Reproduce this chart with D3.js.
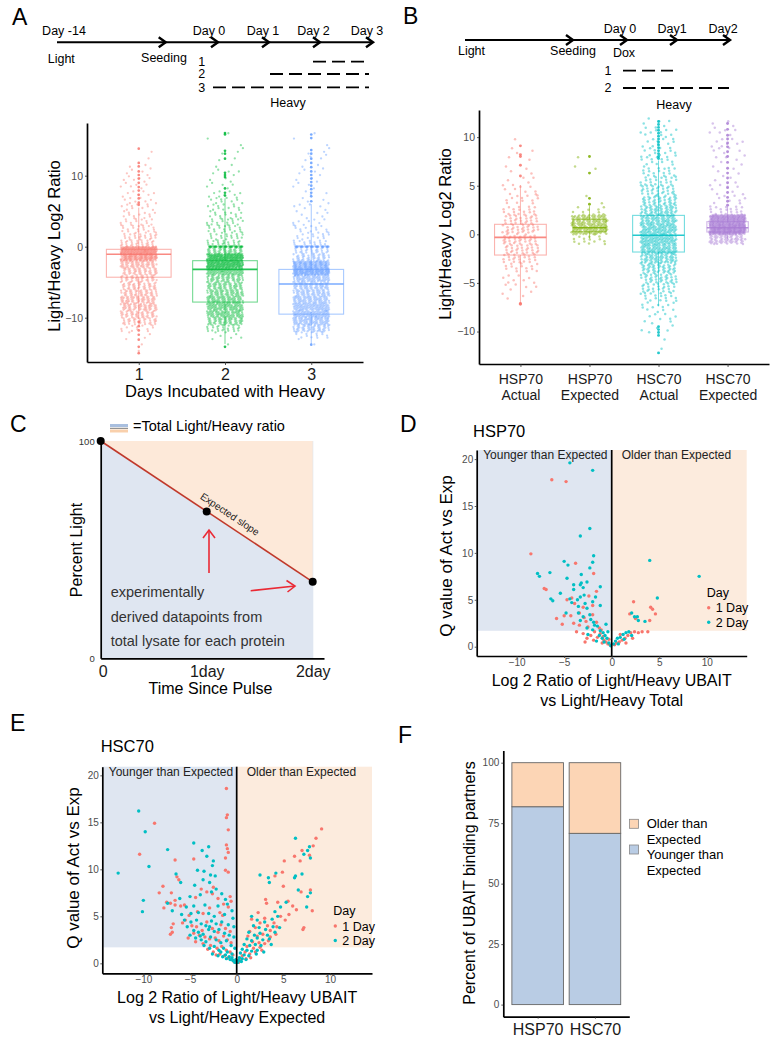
<!DOCTYPE html>
<html><head><meta charset="utf-8">
<script src="https://cdn.jsdelivr.net/npm/d3@7"></script>
<style>body{margin:0;background:#fff}svg{display:block}</style>
</head><body>
<svg id="fig" width="774" height="1049"></svg>
<script>
// ================= DATA =================
// Panel A timeline
const timelineADays = ["Day -14","Day 0","Day 1","Day 2","Day 3"];
const timelineARows = ["1","2","3"];
// Panel A boxplot
const aCategories = ["1","2","3"];
const aYTicks = [-10,0,10];
const aQ1 = [-4.3,-7.8,-9.5];
const aMedian = [-1.07,-3.2,-5.25];
const aQ3 = [-0.37,-1.97,-3.2];
const aWhiskerLo = [-10.2,-13.7,-13.7];
const aWhiskerHi = [5.5,6.8,6.0];
// histogram of jittered points, 1-unit bins starting at -15
const aBinStart = -15;
const aBins1 = [1,2,3,12,35,45,55,55,45,40,40,45,60,140,180,30,25,18,14,12,10,8,7,6,6,4,3,1,1,0,0];
const aBins2 = [0,2,6,25,55,75,80,70,60,55,55,90,170,170,50,25,20,18,18,14,12,10,8,5,3,5,2,2,3,1,2];
const aBins3 = [0,2,15,50,75,90,85,70,60,60,75,160,130,40,30,20,15,12,8,6,6,4,3,4,3,4,3,4,3,1,2];
const aZeroCounts = [0,45,45];
const aOutliers1 = [13.8,11.8,11.3,10.6,10.1,9.6,9.0,8.4,7.9,7.3,6.8,6.2,5.9,-10.6,-11.2,-11.8,-12.4,-13.1,-14.1,-15.0];
const aOutliers2 = [16.0,15.8,13.5,13.1,12.4,10.4,10.1,9.8,8.2,7.6,7.2,-14.1];
const aOutliers3 = [15.8,15.3,13.6,13.1,12.4,11.8,11.2,10.6,10.1,9.6,9.1,8.6,8.1,7.6,7.1,6.4,-13.8];

// Panel B timeline
const timelineBDays = ["Day 0","Day1","Day2"];
const timelineBRows = ["1","2"];
// Panel B boxplot
const bCategories = ["HSP70 Actual","HSP70 Expected","HSC70 Actual","HSC70 Expected"];
const bYTicks = [-10,-5,0,5,10];
const bQ1 = [-2.13,0.27,-1.82,0.24];
const bMedian = [-0.31,0.68,-0.1,0.68];
const bQ3 = [1.03,1.54,1.95,1.3];
const bWhiskerLo = [-7.1,-0.45,-7.4,-0.5];
const bWhiskerHi = [5.07,2.9,7.6,2.9];
const bBinStart = -13;
const bBins1 = [0,0,0,0,0,0,3,6,8,14,22,28,30,30,25,18,12,8,6,4,2,3,1,0,0];
const bBins2 = [0,0,0,0,0,0,0,0,0,0,0,0,15,80,70,10,2,0,0,2,1,0,0,0,0];
const bBins3 = [0,1,2,5,8,12,18,25,35,45,60,75,85,80,70,55,40,30,22,18,14,12,10,12,5];
const bBins4 = [0,0,0,0,0,0,0,0,0,0,0,0,60,230,200,20,8,6,5,5,5,6,8,6,3];
const bOutliers1 = [9.1,8.2,8.0,7.1,6.0,-7.1,-7.2];
const bOutliers2 = [8.0,6.3,3.7,3.1];
const bOutliers3 = [11.6,11.3,11.0,10.7,10.4,10.1,9.8,9.5,9.2,8.9,8.6,8.3,8.0,7.8,-9.5,-9.8,-10.1,-10.4,-12.2];
const bOutliers4 = [11.4,10.8,10.2,9.8,9.4,9.0,8.5,8.0,7.4,6.8,6.3,5.8,5.3,4.8,4.3,3.8,3.4,3.0];

// Panel C
const cTime = [0,1,2];
const cPercentLight = [100,67.6,35.2];
const cXTickLabels = ["0","1day","2day"];
const cYTicks = [0,100];

// Panel D / E : [log2 ratio, Q value]
const volcanoXTicks = [-10,-5,0,5,10];
const volcanoYTicks = [0,5,10,15,20];
const qThreshold = 1.7;
const dayLabels = ["1 Day","2 Day"];
const hsp70Day1 = [[-6.3,17.8],[-4.8,17.6],[-8.5,9.9],[-3.8,8.9],[-1.9,7.8],[-6.9,6.1],[-4.7,5.0],[-1.6,5.9],[-3.9,4.6],[-3.0,4.2],[-2.0,4.4],[-5.2,2.4],[-4.3,3.3],[-3.4,3.6],[-2.9,3.1],[-4.0,2.5],[-3.4,2.3],[-2.7,2.7],[-2.5,2.1],[-2.0,3.4],[-1.6,2.6],[-1.3,2.0],[-3.7,1.6],[-3.0,1.4],[-2.2,1.2],[-1.8,1.6],[-1.5,1.0],[-1.2,1.4],[-0.9,1.1],[-0.8,0.7],[-0.6,0.5],[-0.4,0.3],[-0.3,0.8],[-1.0,0.4],[-2.6,0.9],[-1.9,0.7],[-0.2,0.2],[0.3,0.2],[0.5,0.4],[0.8,0.5],[1.1,0.7],[1.4,0.9],[1.7,1.2],[2.0,1.5],[2.4,1.6],[2.8,1.5],[3.2,1.6],[3.8,1.6],[1.5,0.4],[2.2,0.9],[1.9,3.5],[2.3,4.8],[4.1,4.2],[4.3,4.0],[4.6,3.5],[4.0,2.8],[2.5,3.0],[-5.8,3.0],[-7.1,6.2],[-4.2,5.2],[-2.4,5.4],[-1.1,1.8],[-2.8,0.5],[0.9,1.3],[-5.0,3.3]];
const hsp70Day2 = [[-4.4,19.6],[-2.0,18.8],[-2.3,12.6],[-3.3,11.8],[4.0,9.2],[9.2,7.5],[-1.9,9.7],[-2.0,9.0],[-2.3,8.4],[-5.0,9.1],[-4.6,8.7],[-7.8,7.8],[-7.6,7.5],[-6.5,7.9],[-4.7,7.3],[-3.2,7.7],[-2.6,6.9],[-3.2,6.8],[-4.0,6.6],[-3.3,6.6],[-4.0,6.1],[-3.0,6.3],[-1.2,6.4],[-6.4,5.1],[-5.4,5.7],[-6.2,4.9],[-4.4,5.1],[-3.3,5.3],[-2.9,5.5],[-2.0,4.8],[-1.7,5.3],[-4.2,4.7],[-3.6,5.0],[4.8,5.2],[-4.8,3.6],[-3.5,4.3],[-2.8,4.6],[-2.6,4.1],[-1.2,4.4],[2.7,3.2],[2.4,3.2],[2.1,3.6],[2.8,2.8],[3.5,2.7],[-3.5,3.6],[-3.0,3.2],[-2.3,3.4],[-1.9,2.6],[-1.8,2.3],[-2.6,2.0],[-2.0,1.8],[-1.5,2.2],[-1.2,1.7],[-0.9,1.5],[-1.3,1.2],[-1.0,0.9],[-0.7,1.2],[-0.5,0.9],[-0.8,0.5],[-0.3,0.4],[-0.1,0.1],[0.2,0.3],[0.4,0.6],[0.6,0.9],[0.9,1.0],[1.2,1.3],[1.5,1.5],[1.3,0.8],[0.7,0.3],[1.8,1.6],[2.1,1.2],[-0.6,2.4],[-2.5,1.3],[-1.6,0.6],[-0.4,1.6],[-3.3,2.8],[-2.2,2.9]];
const hsc70Day1 = [[-1.1,18.6],[-1.0,15.8],[-1.1,15.5],[-0.9,14.2],[-8.8,14.9],[-10.4,11.6],[-6.6,11.0],[-4.6,11.1],[-1.1,12.6],[-1.0,12.2],[-0.9,11.8],[-1.2,11.2],[-1.2,9.9],[-0.9,9.7],[-6.4,9.2],[-6.2,8.9],[-7.9,8.2],[-8.3,7.5],[-7.0,7.5],[-6.6,6.7],[-7.5,6.5],[-7.1,6.4],[-6.6,6.2],[-7.8,5.9],[-6.0,6.1],[-5.6,6.2],[-4.4,7.0],[-3.2,7.6],[-2.6,7.4],[-2.0,6.9],[-3.8,7.9],[-2.5,8.1],[-0.7,7.1],[-0.6,6.6],[-0.9,6.0],[-1.4,6.3],[-4.2,5.5],[-5.1,5.1],[-5.8,4.3],[-7.0,3.8],[-6.8,4.2],[-3.6,5.3],[-2.9,5.9],[-1.8,5.4],[-1.5,5.1],[-6.9,3.3],[-7.1,3.1],[-5.5,4.6],[-4.8,4.0],[-4.3,3.9],[-3.7,3.5],[-3.2,4.4],[-2.6,3.7],[-2.0,3.3],[-1.7,4.1],[-1.2,3.7],[-0.7,3.4],[-4.6,3.2],[-4.0,3.0],[-3.4,2.8],[-2.9,2.6],[-2.3,2.7],[-1.9,2.4],[-1.4,2.9],[-1.0,2.5],[-0.6,2.2],[-5.2,2.7],[-4.4,2.3],[-3.6,2.1],[-2.8,1.9],[-2.1,1.6],[-1.6,1.8],[-1.1,1.4],[-0.7,1.2],[-0.4,0.9],[-3.1,1.5],[-2.5,1.2],[-1.8,1.0],[-1.3,0.8],[-0.9,0.6],[-0.5,0.4],[-0.3,0.2],[-2.2,0.9],[-0.1,0.1],[9.1,14.3],[8.5,13.3],[8.2,12.5],[7.0,12.0],[7.8,11.5],[6.2,11.4],[6.8,10.9],[5.1,10.9],[4.9,9.7],[4.1,9.3],[5.0,8.2],[3.1,6.8],[3.2,6.4],[4.4,6.5],[5.5,6.6],[6.0,6.1],[6.9,7.6],[7.9,7.8],[8.1,5.6],[7.1,3.6],[7.2,3.8],[3.0,4.8],[2.5,4.3],[3.3,4.0],[4.0,4.3],[4.7,5.0],[3.6,3.5],[4.3,3.9],[5.2,4.6],[2.0,3.8],[1.4,3.4],[1.2,2.9],[2.2,2.9],[2.8,3.1],[3.6,2.8],[4.2,3.1],[1.7,2.3],[2.4,2.2],[3.0,2.1],[3.4,2.4],[1.1,1.8],[1.8,1.6],[2.5,1.7],[0.9,1.2],[1.4,1.0],[2.0,1.2],[0.6,0.8],[1.0,0.5],[0.4,0.3],[0.2,0.1],[1.5,0.6],[2.7,1.4],[5.6,5.2],[6.4,5.7],[2.3,5.4],[1.6,4.7]];
const hsc70Day2 = [[-10.5,16.2],[-9.8,14.0],[-7.4,12.1],[-9.4,10.3],[-12.7,9.6],[-10.0,6.7],[-10.1,5.5],[-4.6,12.8],[-3.7,12.0],[-3.0,12.4],[-3.2,11.4],[-2.5,10.9],[-2.6,10.4],[-4.2,9.9],[-3.5,9.8],[-2.8,9.4],[-2.3,9.3],[-3.6,8.9],[-4.5,8.3],[-2.9,8.6],[-6.0,8.6],[-6.5,9.5],[-3.9,7.3],[-2.7,7.6],[-2.2,7.9],[-1.6,7.4],[-1.2,6.8],[-5.0,7.1],[-6.1,6.9],[-7.4,6.4],[-5.4,6.0],[-4.6,6.1],[-3.4,6.2],[-2.0,6.1],[-1.0,6.3],[-0.5,5.6],[-6.9,5.6],[-5.9,5.2],[-4.9,5.3],[-4.1,5.4],[-3.0,5.3],[-2.4,5.0],[-1.3,5.2],[-0.4,4.8],[-5.6,4.6],[-4.9,4.4],[-4.3,4.6],[-3.8,4.2],[-3.3,4.0],[-2.7,4.5],[-2.2,4.2],[-1.6,4.4],[-0.9,4.1],[-0.3,3.9],[-5.3,3.9],[-4.6,3.5],[-4.1,3.3],[-3.6,3.1],[-3.0,3.6],[-2.4,3.4],[-1.9,3.6],[-1.3,3.2],[-0.8,3.0],[-0.3,2.8],[-5.0,3.0],[-4.4,2.7],[-3.8,2.5],[-3.3,2.3],[-2.8,2.8],[-2.2,2.5],[-1.7,2.2],[-1.1,2.4],[-0.6,1.9],[-0.2,1.6],[-3.5,1.9],[-2.9,1.6],[-2.4,1.8],[-1.9,1.4],[-1.4,1.6],[-1.0,1.2],[-0.5,1.0],[-2.6,1.0],[-2.0,0.8],[-1.5,0.7],[-1.1,0.5],[-0.7,0.4],[-0.4,0.3],[-0.2,0.1],[-1.7,1.2],[-1.2,0.9],[-0.8,0.7],[-0.5,0.6],[-0.1,0.4],[-3.9,2.9],[-2.9,3.9],[6.3,13.3],[7.8,12.4],[7.6,12.0],[7.2,11.6],[7.9,11.2],[7.0,9.5],[6.3,9.3],[6.2,9.1],[2.5,9.4],[3.4,9.1],[4.2,9.6],[3.5,8.6],[6.6,7.8],[7.6,7.1],[7.9,7.5],[5.3,6.5],[4.7,6.0],[4.1,5.5],[7.5,6.0],[1.6,5.0],[2.2,4.6],[3.0,4.4],[3.8,4.7],[4.4,5.0],[1.8,4.0],[2.4,3.8],[3.1,3.6],[3.9,3.9],[1.3,3.3],[1.9,3.0],[2.5,3.2],[3.3,3.0],[4.1,3.3],[1.1,2.6],[1.6,2.4],[2.2,2.7],[2.8,2.5],[3.5,2.6],[0.8,2.0],[1.4,1.9],[2.0,2.0],[2.6,1.9],[0.6,1.5],[1.1,1.4],[1.6,1.3],[2.2,1.4],[0.4,1.1],[0.8,0.9],[1.3,0.8],[0.3,0.6],[0.6,0.5],[1.0,0.4],[0.2,0.3],[0.1,0.1],[0.5,0.2],[2.9,1.2],[3.7,2.0],[4.6,3.8],[2.1,1.0]];

// Panel F
const fCategories = ["HSP70","HSC70"];
const fYounger = [81.8,70.8];
const fOlder = [18.2,29.2];
const fYTicks = [0,25,50,75,100];
const fLegend = [["Older than","Expected"],["Younger than","Expected"]];

// ================= DRAWING =================
const FONT = '"Liberation Sans", Arial, Helvetica, sans-serif';
const GREY = "#4d4d4d";
const svg = d3.select("#fig").attr("font-family", FONT);
svg.append("rect").attr("width",774).attr("height",1049).attr("fill","#fff");

function txt(g, x, y, s, o = {}) {
  const t = g.append("text").attr("x", x).attr("y", y).text(s)
    .attr("font-size", o.size || 12).attr("fill", o.fill || "#000")
    .attr("text-anchor", o.anchor || "start");
  if (o.rotate != null) t.attr("transform", `rotate(${o.rotate},${x},${y})`);
  return t;
}
function chevron(g, x, y, w = 7, h = 5, col = "#000", sw = 2.4) {
  g.append("path").attr("d", `M${x-w},${y-h}L${x},${y}L${x-w},${y+h}`)
    .attr("fill", "none").attr("stroke", col).attr("stroke-width", sw);
}
function hline(g, x1, x2, y, o = {}) {
  return g.append("line").attr("x1", x1).attr("x2", x2).attr("y1", y).attr("y2", y)
    .attr("stroke", o.stroke || "#000").attr("stroke-width", o.w || 2)
    .attr("stroke-dasharray", o.dash || null);
}
function styleAxis(ax, size, fill) {
  ax.attr("font-family", FONT).attr("font-size", size);
  ax.select(".domain").attr("stroke", "#000").attr("stroke-width", 1.7);
  ax.selectAll(".tick line").attr("stroke", "#333").attr("stroke-width", 0.8);
  ax.selectAll(".tick text").attr("fill", fill);
}

// Panel letters
[["A",12,25],["B",403,23.5],["C",10,432],["D",400,432],["E",10,731],["F",398,743]]
  .forEach(([l,x,y]) => txt(svg, x, y, l, {size: 23}));

// ---------- Timeline A ----------
(function(){
  const g = svg.append("g");
  const y0 = 42.3;
  hline(g, 57, 372, y0, {w: 2});
  [165.7, 218, 269, 320, 373].forEach(x => chevron(g, x, y0));
  const labX = [64, 209, 263, 313.5, 367];
  timelineADays.forEach((d,i) => txt(g, labX[i], 35, d, {size: 12.5, anchor: "middle"}));
  txt(g, 61.3, 62.5, "Light", {size: 12.5, anchor: "middle"});
  txt(g, 164, 61.5, "Seeding", {size: 12.5, anchor: "middle"});
  const rowY = [61.7, 74, 87.3], rowX0 = [313, 270, 213];
  timelineARows.forEach((r,i) => {
    txt(g, 201.7, rowY[i] + 4.3, r, {size: 12.5, anchor: "middle"});
    hline(g, rowX0[i], 369, rowY[i], {w: 1.8, dash: "13,6"});
  });
  txt(g, 288, 107, "Heavy", {size: 12.5, anchor: "middle"});
})();

// ---------- Timeline B ----------
(function(){
  const g = svg.append("g");
  const y0 = 40;
  hline(g, 465, 729, y0, {w: 2});
  [573, 627, 677, 730].forEach(x => chevron(g, x, y0));
  const labX = [620, 672, 723];
  timelineBDays.forEach((d,i) => txt(g, labX[i], 33, d, {size: 12.5, anchor: "middle"}));
  txt(g, 471.5, 55, "Light", {size: 12.5, anchor: "middle"});
  txt(g, 573, 55, "Seeding", {size: 12.5, anchor: "middle"});
  txt(g, 624, 57, "Dox", {size: 12.5, anchor: "middle"});
  const rowY = [70.7, 88], rowX1 = [673, 729];
  timelineBRows.forEach((r,i) => {
    txt(g, 608, rowY[i] + 4, r, {size: 12.5, anchor: "middle"});
    hline(g, 623, rowX1[i], rowY[i], {w: 1.8, dash: "13,6"});
  });
  txt(g, 674, 109, "Heavy", {size: 12.5, anchor: "middle"});
})();

// ---------- Box + jitter panels ----------
function binPoints(bins, start) {
  const pts = [];
  bins.forEach((n, k) => {
    for (let i = 0; i < n; i++) {
      const s = i + k * 37;
      pts.push({v: start + k + ((s * 0.7548776662 + 0.31) % 1),
                j: ((s * 0.5698402910 + 0.5) % 1) * 2 - 1});
    }
  });
  return pts;
}
function boxPanel(o) {
  const g = svg.append("g");
  const x = d3.scalePoint().domain(o.cats).range(o.xr).padding(0.6);
  const y = d3.scaleLinear().domain(o.yd).range(o.yr);
  const step = x.step();
  o.cats.forEach((c, i) => {
    const cx = x(c), col = o.colors[i], hw = step * o.boxW[i] / 2;
    g.append("line").attr("x1", cx).attr("x2", cx).attr("y1", y(o.q3[i])).attr("y2", y(o.wHi[i]))
      .attr("stroke", col).attr("stroke-opacity", 0.55);
    g.append("line").attr("x1", cx).attr("x2", cx).attr("y1", y(o.q1[i])).attr("y2", y(o.wLo[i]))
      .attr("stroke", col).attr("stroke-opacity", 0.55);
    g.append("rect").attr("x", cx - hw).attr("width", 2 * hw)
      .attr("y", y(o.q3[i])).attr("height", y(o.q1[i]) - y(o.q3[i]))
      .attr("fill", "none").attr("stroke", col).attr("stroke-opacity", 0.55).attr("stroke-width", 1.1);
  });
  o.cats.forEach((c, i) => {
    const cx = x(c), col = o.colors[i], jw = step * o.jitter;
    const pts = binPoints(o.bins[i], o.binStart);
    for (let z = 0; z < (o.zero ? o.zero[i] : 0); z++)
      pts.push({v: 0, j: ((z * 0.5698402910 + 0.13) % 1) * 2 - 1});
    g.append("g").selectAll("circle").data(pts).join("circle")
      .attr("cx", d => cx + d.j * jw).attr("cy", d => y(d.v)).attr("r", o.r)
      .attr("fill", col).attr("fill-opacity", o.alpha);
    g.append("g").selectAll("circle").data(o.outliers[i]).join("circle")
      .attr("cx", cx).attr("cy", d => y(d)).attr("r", o.r + 0.2)
      .attr("fill", col).attr("fill-opacity", 0.85);
    const hw = step * o.boxW[i] / 2;
    g.append("line").attr("x1", cx - hw).attr("x2", cx + hw).attr("y1", y(o.med[i])).attr("y2", y(o.med[i]))
      .attr("stroke", col).attr("stroke-width", 1.6).attr("stroke-opacity", 0.85);
  });
  const ay = g.append("g").attr("transform", `translate(${o.xr[0]},0)`)
    .call(d3.axisLeft(y).tickValues(o.yTicks).tickSize(2).tickSizeOuter(0).tickPadding(2));
  styleAxis(ay, 10.5, GREY);
  const ax = g.append("g").attr("transform", `translate(0,${o.yr[0]})`)
    .call(d3.axisBottom(x).tickSize(3).tickSizeOuter(0));
  styleAxis(ax, o.tickSize, "#1a1a1a");
  if (o.split) {
    // two-line category labels as separate text elements
    ax.selectAll(".tick").each(function(d) {
      const tk = d3.select(this);
      tk.select("text").remove();
      d.split(" ").forEach((l, k) => tk.append("text").attr("x", 0).attr("y", o.tickBase + k * o.lineGap)
        .attr("text-anchor", "middle").attr("fill", "#1a1a1a").text(l));
    });
  } else {
    ax.selectAll(".tick text").attr("dy", null).attr("y", o.tickBase);
  }
  txt(g, o.yTitle[0], o.yTitle[1], o.yTitle[2], {size: 16.5, anchor: "middle", rotate: -90});
  if (o.xTitle) txt(g, o.xTitle[0], o.xTitle[1], o.xTitle[2], {size: 16.5, anchor: "middle"});
}

boxPanel({
  cats: aCategories, xr: [87, 363], yd: [-16.24, 17.42], yr: [362, 123],
  colors: ["#F8766D", "#00BA38", "#619CFF"], boxW: [0.75, 0.75, 0.75], jitter: 0.21,
  q1: aQ1, med: aMedian, q3: aQ3, wLo: aWhiskerLo, wHi: aWhiskerHi,
  bins: [aBins1, aBins2, aBins3], binStart: aBinStart, zero: aZeroCounts,
  outliers: [aOutliers1, aOutliers2, aOutliers3], r: 1.15, alpha: 0.42,
  yTicks: aYTicks, tickBase: 18, lineGap: 0, split: false, tickSize: 16,
  yTitle: [60, 246, "Light/Heavy Log2 Ratio"], xTitle: [225, 397, "Days Incubated with Heavy"]
});
boxPanel({
  cats: bCategories, xr: [479, 769], yd: [-13.34, 12.79], yr: [364, 110],
  colors: ["#F8766D", "#7CAE00", "#00BFC4", "#A97CD4"], boxW: [0.75, 0.48, 0.75, 0.6], jitter: 0.26,
  q1: bQ1, med: bMedian, q3: bQ3, wLo: bWhiskerLo, wHi: bWhiskerHi,
  bins: [bBins1, bBins2, bBins3, bBins4], binStart: bBinStart, zero: null,
  outliers: [bOutliers1, bOutliers2, bOutliers3, bOutliers4], r: 1.25, alpha: 0.45,
  yTicks: bYTicks, tickBase: 19.5, lineGap: 16, split: true, tickSize: 14,
  yTitle: [451, 234, "Light/Heavy Log2 Ratio"], xTitle: null
});

// ---------- Panel C ----------
(function(){
  const g = svg.append("g");
  const x = d3.scaleLinear().domain([0, 2]).range([100.7, 312.7]);
  const y = d3.scaleLinear().domain([0, 100]).range([658.3, 441]);
  g.append("rect").attr("x", x(0)).attr("y", y(100)).attr("width", x(2) - x(0) + 0.6)
    .attr("height", y(0) - y(100)).attr("fill", "#dfe6f1");
  const last = cTime.length - 1;
  g.append("path").attr("d", d3.line()([[x(cTime[0]), y(cPercentLight[0])], [x(cTime[last]), y(100)], [x(cTime[last]), y(cPercentLight[last])]]))
    .attr("fill", "#fde9d9").attr("stroke", "none");
  g.append("path").attr("d", d3.line().x((d, i) => x(d)).y((d, i) => y(cPercentLight[i]))(cTime))
    .attr("fill", "none").attr("stroke", "#c0392b").attr("stroke-width", 1.6);
  g.selectAll("circle.c").data(cTime).join("circle").attr("class", "c")
    .attr("cx", d => x(d)).attr("cy", (d, i) => y(cPercentLight[i])).attr("r", 4).attr("fill", "#000");
  // axes
  const ax = g.append("g").attr("transform", `translate(0,${y(0)})`)
    .call(d3.axisBottom(d3.scaleLinear().domain([0, 2.106]).range([100.7, 324])).tickValues(cTime).tickSize(0).tickSizeOuter(0).tickFormat((d, i) => cXTickLabels[i]));
  styleAxis(ax, 16, "#1a1a1a");
  ax.selectAll(".tick text").attr("dy", null).attr("y", 18.4);
  ax.select(".tick text").attr("dx", 2);
  const ay = g.append("g").attr("transform", `translate(${x(0)},0)`)
    .call(d3.axisLeft(y).tickValues(cYTicks).tickSize(0).tickSizeOuter(0).tickPadding(6));
  styleAxis(ay, 9.5, "#333");
  // expected slope label
  const ang = Math.atan2(y(cPercentLight[last]) - y(cPercentLight[0]), x(cTime[last]) - x(cTime[0])) * 180 / Math.PI;
  const px = 224, py = y(100) + (px - x(0)) * Math.tan(ang * Math.PI / 180);
  g.append("text").attr("transform", `translate(${px},${py}) rotate(${ang})`).attr("y", -7)
    .attr("text-anchor", "middle").attr("font-size", 10).attr("fill", "#222").text("Expected slope");
  // red arrows
  const red = "#ea2a35";
  g.append("line").attr("x1", 209).attr("x2", 209).attr("y1", 573).attr("y2", 530.5).attr("stroke", red).attr("stroke-width", 1.6);
  g.append("path").attr("d", "M203,538L209,530L215,538").attr("fill", "none").attr("stroke", red).attr("stroke-width", 1.6);
  g.append("line").attr("x1", 250.7).attr("x2", 295).attr("y1", 590.7).attr("y2", 586).attr("stroke", red).attr("stroke-width", 1.6);
  g.append("path").attr("d", "M286.5,580.5L295,586L287.5,592").attr("fill", "none").attr("stroke", red).attr("stroke-width", 1.6);
  txt(g, 110.7, 597.3, "experimentally", {size: 14.5, fill: "#333"});
  txt(g, 110.7, 622.3, "derived datapoints from", {size: 14.5, fill: "#333"});
  txt(g, 110.7, 646.3, "total lysate for each protein", {size: 14.5, fill: "#333"});
  // legend
  hline(g, 110, 128, 425.5, {stroke: "#a9bfdf", w: 3});
  hline(g, 110, 128, 428.3, {stroke: "#555", w: 0.8});
  hline(g, 110, 128, 431, {stroke: "#f9d0ac", w: 3});
  txt(g, 133, 431, "=Total Light/Heavy ratio", {size: 14.5});
  txt(g, 82, 550, "Percent Light", {size: 16, anchor: "middle", rotate: -90});
  txt(g, 210.5, 694, "Time Since Pulse", {size: 16, anchor: "middle"});
})();

// ---------- Volcano panels ----------
function volcano(o) {
  const g = svg.append("g");
  const x = d3.scaleLinear().domain(o.xd).range(o.xr);
  const y = d3.scaleLinear().domain(o.yd).range(o.yr);
  const top = o.yr[1], bot = o.yr[0];
  g.append("rect").attr("x", o.xr[0]).attr("y", top).attr("width", x(0) - o.xr[0]).attr("height", y(qThreshold) - top).attr("fill", "#dfe6f1");
  g.append("rect").attr("x", x(0)).attr("y", top).attr("width", o.xr[1] - x(0)).attr("height", y(qThreshold) - top).attr("fill", "#fcebdd");
  txt(g, o.xr[0] + 6.5, top + 8.8, "Younger than Expected", {size: 12, fill: "#222"});
  txt(g, x(0) + 10, top + 8.8, "Older than Expected", {size: 12, fill: "#222"});
  const cols = ["#F8766D", "#00BFC4"];
  [o.d1, o.d2].forEach((arr, k) => {
    g.append("g").selectAll("circle").data(arr).join("circle")
      .attr("cx", d => x(d[0])).attr("cy", d => y(d[1])).attr("r", 1.7).attr("fill", cols[k]);
  });
  g.append("line").attr("x1", x(0)).attr("x2", x(0)).attr("y1", top).attr("y2", bot).attr("stroke", "#000").attr("stroke-width", 1.7);
  const ay = g.append("g").attr("transform", `translate(${o.xr[0]},0)`)
    .call(d3.axisLeft(y).tickValues(volcanoYTicks).tickSize(2).tickSizeOuter(0).tickPadding(1.5));
  styleAxis(ay, 10, GREY);
  const ax = g.append("g").attr("transform", `translate(0,${bot})`)
    .call(d3.axisBottom(x).tickValues(volcanoXTicks).tickSize(2).tickSizeOuter(0));
  styleAxis(ax, 10, GREY);
  ax.selectAll(".tick text").attr("dy", null).attr("y", 9.5);
  // legend
  const lx = o.legend[0], ly = o.legend[1];
  txt(g, lx, ly, "Day", {size: 12.5});
  dayLabels.forEach((l, k) => {
    g.append("circle").attr("cx", lx + 2).attr("cy", ly + 11 + k * 14.5).attr("r", 1.7).attr("fill", cols[k]);
    txt(g, lx + 9, ly + 15.5 + k * 14.5, l, {size: 12.5});
  });
  const cx = (o.xr[0] + o.xr[1]) / 2;
  txt(g, cx, bot + 29.5, "Log 2 Ratio of Light/Heavy UBAIT", {size: 16, anchor: "middle"});
  txt(g, cx, bot + 49.5, o.xTitle2, {size: 16, anchor: "middle"});
  txt(g, o.yTitle[0], o.yTitle[1], "Q value of Act vs Exp", {size: 17, anchor: "middle", rotate: -90});
  txt(g, o.title[0], o.title[1], o.title[2], {size: 16.5});
}
volcano({
  xd: [-14.2, 14.2], xr: [476.7, 746.7], yd: [-0.99, 20.97], yr: [656, 450],
  d1: hsp70Day1, d2: hsp70Day2, legend: [706.7, 596.7], xTitle2: "vs Light/Heavy Total",
  yTitle: [452, 556], title: [473, 436.7, "HSP70"]
});
volcano({
  xd: [-14.4, 14.5], xr: [102.3, 372], yd: [-1.06, 20.92], yr: [973.3, 766.7],
  d1: hsc70Day1, d2: hsc70Day2, legend: [333.3, 915], xTitle2: "vs Light/Heavy Expected",
  yTitle: [78.5, 868], title: [100.7, 751.7, "HSC70"]
});

// ---------- Panel F ----------
(function(){
  const g = svg.append("g");
  const x = d3.scalePoint().domain(fCategories).range([503.3, 629.3]).padding(0.6);
  const y = d3.scaleLinear().domain([-5, 105]).range([1016.7, 750.6]);
  const bw = x.step() * 0.9;
  fCategories.forEach((c, i) => {
    g.append("rect").attr("x", x(c) - bw / 2).attr("width", bw).attr("y", y(fYounger[i])).attr("height", y(0) - y(fYounger[i]))
      .attr("fill", "#b9cce4").attr("stroke", "#666").attr("stroke-width", 0.9);
    g.append("rect").attr("x", x(c) - bw / 2).attr("width", bw).attr("y", y(fYounger[i] + fOlder[i])).attr("height", y(fYounger[i]) - y(fYounger[i] + fOlder[i]))
      .attr("fill", "#fcd5b5").attr("stroke", "#666").attr("stroke-width", 0.9);
  });
  const ay = g.append("g").attr("transform", `translate(503.3,0)`)
    .call(d3.axisLeft(y).tickValues(fYTicks).tickSize(2).tickSizeOuter(0).tickPadding(2));
  styleAxis(ay, 10, GREY);
  const ax = g.append("g").attr("transform", `translate(0,1016.7)`)
    .call(d3.axisBottom(x).tickSize(2).tickSizeOuter(0));
  styleAxis(ax, 16, "#1a1a1a");
  ax.selectAll(".tick text").attr("dy", null).attr("y", 18.3);
  txt(g, 475, 883, "Percent of UBAIT binding partners", {size: 16, anchor: "middle", rotate: -90});
  const sw = ["#fcd5b5", "#b9cce4"], sy = [819.3, 845], base = [828, 859];
  fLegend.forEach((lines, k) => {
    g.append("rect").attr("x", 629.5).attr("y", sy[k]).attr("width", 9).attr("height", 9).attr("fill", sw[k]).attr("stroke", "#888").attr("stroke-width", 0.8);
    lines.forEach((l, j) => txt(g, 646.7, base[k] + j * 15.5, l, {size: 13}));
  });
})();
</script>
</body></html>
